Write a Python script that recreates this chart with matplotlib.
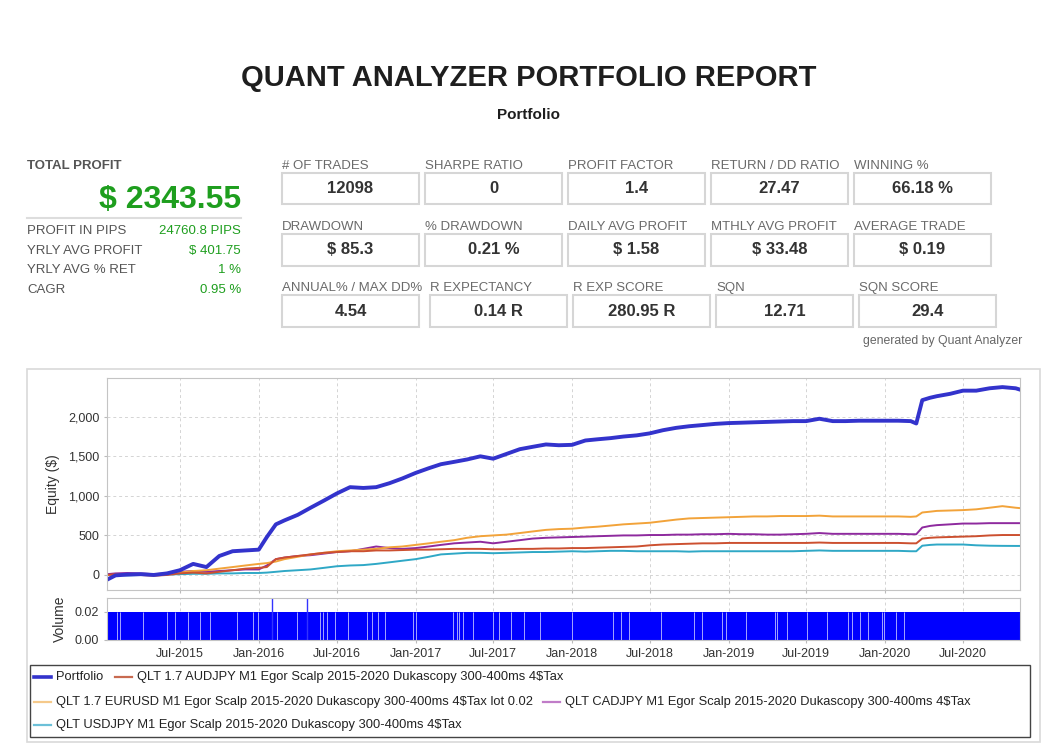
import matplotlib
matplotlib.use("Agg")
import matplotlib.pyplot as plt
import matplotlib.dates as mdates
from matplotlib.patches import Rectangle
from matplotlib.lines import Line2D
from matplotlib.ticker import StrMethodFormatter, FixedLocator
import pandas as pd

plt.rcParams['font.family'] = ['Liberation Sans', 'DejaVu Sans']

# ---- report numbers ----
title = "QUANT ANALYZER PORTFOLIO REPORT"
subtitle = "Portfolio"
total_profit = r"\$ 2343.55"
left_labels = ["PROFIT IN PIPS", "YRLY AVG PROFIT", "YRLY AVG % RET", "CAGR"]
left_values = ["24760.8 PIPS", r"\$ 401.75", "1 %", "0.95 %"]

row1_labels = ["# OF TRADES", "SHARPE RATIO", "PROFIT FACTOR", "RETURN / DD RATIO", "WINNING %"]
row1_values = ["12098", "0", "1.4", "27.47", "66.18 %"]
row2_labels = ["DRAWDOWN", "% DRAWDOWN", "DAILY AVG PROFIT", "MTHLY AVG PROFIT", "AVERAGE TRADE"]
row2_values = [r"\$ 85.3", "0.21 %", r"\$ 1.58", r"\$ 33.48", r"\$ 0.19"]
row3_labels = ["ANNUAL% / MAX DD%", "R EXPECTANCY", "R EXP SCORE", "SQN", "SQN SCORE"]
row3_values = ["4.54", "0.14 R", "280.95 R", "12.71", "29.4"]

# ---- equity curves ----
dates = (
    ["2015-01-12", "2015-02-01", "2015-03-01", "2015-04-01", "2015-05-01", "2015-06-01",
     "2015-07-01", "2015-08-01", "2015-09-01", "2015-10-01", "2015-11-01", "2015-12-01"] +
    ["2016-01-01", "2016-01-20", "2016-02-10", "2016-03-01", "2016-04-01", "2016-05-01", "2016-06-01",
     "2016-07-01", "2016-08-01", "2016-09-01", "2016-10-01", "2016-11-01", "2016-12-01"] +
    ["2017-%02d-01" % m for m in range(1, 13)] +
    ["2018-%02d-01" % m for m in range(1, 13)] +
    ["2019-%02d-01" % m for m in range(1, 13)] +
    ["2020-01-01", "2020-02-01", "2020-03-01", "2020-03-14", "2020-03-28", "2020-04-15", "2020-05-01",
     "2020-06-01", "2020-07-01", "2020-08-01", "2020-09-01", "2020-10-01", "2020-11-01", "2020-11-11"]
)

portfolio = (
    [-60, -5, 5, 10, 0, 20, 60, 140, 100, 240, 300, 310] +
    [320, 480, 640, 690, 760, 850, 940, 1030, 1110, 1100, 1110, 1160, 1220] +
    [1290, 1350, 1400, 1430, 1460, 1500, 1470, 1530, 1590, 1620, 1650, 1640] +
    [1645, 1700, 1715, 1730, 1750, 1765, 1790, 1830, 1860, 1880, 1895, 1910] +
    [1920, 1925, 1930, 1935, 1940, 1945, 1945, 1975, 1945, 1945, 1950, 1950] +
    [1950, 1950, 1945, 1915, 2210, 2240, 2260, 2290, 2330, 2330, 2360, 2375, 2360, 2343]
)
audjpy = (
    [0, 10, 10, 0, -10, 0, 20, 30, 20, 40, 60, 80] +
    [90, 100, 200, 220, 240, 260, 280, 290, 300, 300, 310, 310, 315] +
    [320, 320, 325, 330, 330, 330, 325, 325, 330, 330, 335, 335] +
    [340, 340, 345, 350, 355, 360, 375, 385, 390, 395, 400, 400] +
    [405, 405, 405, 405, 405, 405, 405, 410, 405, 405, 405, 405] +
    [405, 405, 400, 400, 460, 470, 475, 480, 485, 490, 500, 505, 505, 505]
)
eurusd = (
    [0, 0, 5, 10, 10, 15, 30, 50, 60, 80, 100, 120] +
    [140, 150, 170, 200, 230, 260, 280, 300, 310, 320, 330, 350, 360] +
    [380, 400, 420, 440, 470, 490, 500, 510, 530, 550, 570, 580] +
    [585, 600, 610, 625, 640, 650, 660, 680, 700, 715, 720, 725] +
    [730, 735, 740, 740, 745, 745, 745, 750, 740, 740, 740, 740] +
    [740, 740, 735, 740, 790, 800, 810, 815, 820, 830, 850, 870, 850, 845]
)
cadjpy = (
    [10, 20, 25, 20, 10, 20, 40, 50, 40, 50, 60, 70] +
    [70, 120, 200, 220, 240, 250, 270, 290, 300, 330, 360, 340, 330] +
    [340, 360, 380, 400, 410, 420, 400, 420, 440, 460, 470, 475] +
    [480, 485, 490, 495, 500, 500, 505, 505, 510, 510, 515, 515] +
    [520, 515, 515, 510, 510, 515, 520, 530, 520, 520, 520, 520] +
    [520, 520, 515, 515, 600, 620, 630, 640, 650, 650, 655, 655, 655, 655]
)
usdjpy = (
    [0, 0, -5, 0, 0, 5, 10, 15, 15, 20, 20, 25] +
    [25, 30, 40, 50, 60, 70, 90, 110, 120, 125, 140, 160, 180] +
    [200, 230, 260, 270, 280, 280, 275, 280, 285, 290, 290, 295] +
    [300, 295, 300, 305, 305, 300, 300, 300, 300, 295, 300, 300] +
    [300, 300, 300, 300, 300, 300, 305, 310, 305, 305, 305, 305] +
    [305, 305, 300, 300, 370, 380, 385, 385, 385, 375, 370, 368, 367, 367]
)

series_names = [
    "Portfolio",
    "QLT 1.7 AUDJPY M1 Egor Scalp 2015-2020 Dukascopy 300-400ms 4\\$Tax",
    "QLT 1.7 EURUSD M1 Egor Scalp 2015-2020 Dukascopy 300-400ms 4\\$Tax lot 0.02",
    "QLT CADJPY M1 Egor Scalp 2015-2020 Dukascopy 300-400ms 4\\$Tax",
    "QLT USDJPY M1 Egor Scalp 2015-2020 Dukascopy 300-400ms 4\\$Tax",
]
series_colors = ["#3333cc", "#cc5030", "#f2a33a", "#8e2a9e", "#2fa8c6"]
legend_colors = ["#3333cc", "#c86a50", "#f5c98a", "#c07cc8", "#6cc0d8"]

# volume: normal lot 0.02, two 0.03 spikes, days with no trade
vol_start, vol_end = "2015-01-12", "2020-11-11"
vol_level = 0.02
vol_spikes = ["2016-01-31", "2016-04-22"]
vol_spike_level = 0.03
vol_gaps = ["2015-02-04", "2015-02-11", "2015-04-06", "2015-06-01", "2015-06-19", "2015-07-20",
            "2015-08-17", "2015-09-09", "2015-11-11", "2015-12-18", "2015-12-30", "2016-02-12",
            "2016-03-30", "2016-05-23", "2016-05-30", "2016-06-08", "2016-06-27", "2016-07-27",
            "2016-09-09", "2016-09-21", "2016-10-05", "2016-10-21", "2016-12-26", "2017-01-03",
            "2017-03-29", "2017-04-08", "2017-04-13", "2017-04-22", "2017-05-15", "2017-06-30",
            "2017-07-15", "2017-08-12", "2017-09-12", "2017-10-19", "2018-01-01", "2018-04-06",
            "2018-04-25", "2018-05-14", "2018-07-27", "2018-10-12", "2018-10-31", "2018-12-16",
            "2018-12-26", "2019-02-10", "2019-04-19", "2019-04-24", "2019-05-17", "2019-07-03",
            "2019-08-18", "2019-10-06", "2019-10-16", "2019-11-03", "2019-11-22", "2019-12-25",
            "2019-12-29", "2020-01-26", "2020-02-14"]

# ---- figure ----
W, H = 1057, 750
fig = plt.figure(figsize=(W / 100, H / 100), dpi=100)


def fx(x):
    return x / W


def fy(y):
    return 1 - y / H


fig.text(fx(529), fy(78), title, ha='center', va='center', fontsize=21, weight='bold', color='#1e1e1e')
fig.text(fx(529), fy(115), subtitle, ha='center', va='center', fontsize=11, weight='bold', color='#1e1e1e')

# left summary
green = '#1e9e1e'
fig.text(fx(27), fy(166), "TOTAL PROFIT", ha='left', va='center', fontsize=9.5, weight='bold', color='#555555')
fig.text(fx(241), fy(200), total_profit, ha='right', va='center', fontsize=23, weight='bold', color=green)
fig.add_artist(Line2D([fx(27), fx(241)], [fy(218), fy(218)], color='#dddddd', lw=1.5))
for i, (lab, val) in enumerate(zip(left_labels, left_values)):
    y = 231 + i * 19.7
    fig.text(fx(27), fy(y), lab, ha='left', va='center', fontsize=9.5, color='#555555')
    fig.text(fx(241), fy(y), val, ha='right', va='center', fontsize=9.5, color=green)

# metric boxes
rows = [
    (row1_labels, row1_values, 166, 173, 204, [282, 425, 568, 711, 854], 137),
    (row2_labels, row2_values, 227, 234, 266, [282, 425, 568, 711, 854], 137),
    (row3_labels, row3_values, 288, 295, 327, [282, 430, 573, 716, 859], 137),
]
for labels, values, ly, top, bot, xs, bw in rows:
    for lab, val, x0 in zip(labels, values, xs):
        fig.text(fx(x0), fy(ly), lab, ha='left', va='center', fontsize=9.5, color='#6a6a6a')
        fig.add_artist(Rectangle((fx(x0), fy(bot)), bw / W, (bot - top) / H, fill=False,
                                 ec='#d6d6d6', lw=1.5, transform=fig.transFigure))
        fig.text(fx(x0 + bw / 2), fy((top + bot) / 2), val, ha='center', va='center',
                 fontsize=12, weight='bold', color='#333333')

fig.text(fx(1022), fy(341), "generated by Quant Analyzer", ha='right', va='center', fontsize=8.8, color='#666666')

# chart frame
fig.add_artist(Rectangle((fx(27), fy(742)), (1040 - 27) / W, (742 - 369) / H, fill=False,
                         ec='#d9d9d9', lw=1.2, transform=fig.transFigure))

d = pd.to_datetime(dates)
ax = fig.add_axes([fx(107), fy(590), (1020 - 107) / W, (590 - 378) / H])
vax = fig.add_axes([fx(107), fy(640), (1020 - 107) / W, (640 - 598) / H], sharex=ax)

for vals, col in zip([usdjpy, cadjpy, eurusd, audjpy], series_colors[:0:-1]):
    ax.plot(d, vals, color=col, lw=1.4)
ax.plot(d, portfolio, color=series_colors[0], lw=2.8)

ax.set_ylim(-190, 2490)
ax.yaxis.set_major_locator(FixedLocator([0, 500, 1000, 1500, 2000]))
ax.yaxis.set_major_formatter(StrMethodFormatter('{x:,.0f}'))
ax.set_ylabel("Equity (\\$)", fontsize=10, color='#333333', labelpad=6)
ax.set_xlim(pd.Timestamp(vol_start), pd.Timestamp(vol_end))

vax.fill_between(pd.to_datetime([vol_start, vol_end]), 0, vol_level, color='#0000ff', lw=0)
vax.vlines(pd.to_datetime(vol_gaps), 0, vol_level, color='white', lw=0.6, alpha=0.75)
vax.vlines(pd.to_datetime(vol_spikes), 0, vol_spike_level, color='#3333ff', lw=1.0)
vax.set_ylim(0, 0.03)
vax.yaxis.set_major_locator(FixedLocator([0, 0.02]))
vax.yaxis.set_major_formatter(StrMethodFormatter('{x:.2f}'))
vax.set_ylabel("Volume", fontsize=10, color='#333333', labelpad=6)

vax.xaxis.set_major_locator(mdates.MonthLocator(bymonth=[1, 7]))
vax.xaxis.set_major_formatter(mdates.DateFormatter('%b-%Y'))
plt.setp(ax.get_xticklabels(), visible=False)

for a in (ax, vax):
    a.grid(True, color='#d4d4d4', ls=(0, (3, 3)), lw=0.7)
    a.set_axisbelow(True)
    for s in a.spines.values():
        s.set_color('#c4c4c4')
    a.tick_params(labelsize=9, colors='#333333', length=2, color='#bbbbbb')

# legend box
fig.add_artist(Rectangle((fx(30), fy(737)), (1030 - 30) / W, (737 - 665) / H, fill=False,
                         ec='#444444', lw=1.0, transform=fig.transFigure))
legend_slots = [(34, 677), (115, 677), (34, 702), (543, 702), (34, 725)]
for name, col, (lx, ly) in zip(series_names, legend_colors, legend_slots):
    fig.add_artist(Line2D([fx(lx), fx(lx + 17)], [fy(ly), fy(ly)], color=col,
                          lw=2.6 if col == legend_colors[0] else 1.6))
    fig.text(fx(lx + 22), fy(ly), name, ha='left', va='center', fontsize=9.3, color='#222222')

fig.savefig("out.png", dpi=100)
